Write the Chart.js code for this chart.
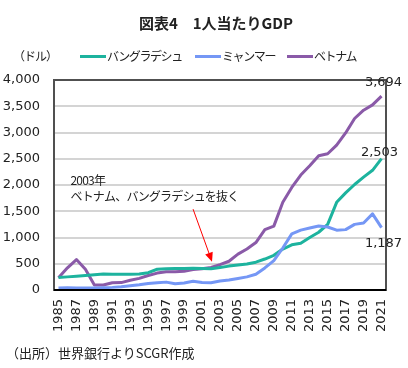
<!DOCTYPE html>
<html>
<head>
<meta charset="utf-8">
<script src="https://cdn.jsdelivr.net/npm/chart.js@4/dist/chart.umd.min.js"></script>
<style>
  body { margin: 0; background: #fff; }
  #wrap { position: relative; width: 408px; height: 368px; font-family: "Noto Sans CJK JP", "DejaVu Sans", sans-serif; color: #222; }
  #chart { position: absolute; left: 0; top: 0; }
  .title { position: absolute; left: 0; width: 432px; top: 12px; text-align: center; font-weight: bold; font-size: 15px; }
  .unit { position: absolute; left: 13px; top: 47px; font-size: 12px; letter-spacing: -1px; }
  .leg { position: absolute; top: 47px; font-size: 12px; white-space: nowrap; letter-spacing: -1.4px; }
  .leg i { display: inline-block; width: 26px; height: 3px; vertical-align: middle; margin-right: 1px; position: relative; top: -1px; }
  .src { position: absolute; left: 6px; top: 343px; font-size: 13px; }
</style>
</head>
<body>
<div id="wrap">
  <canvas id="chart" width="408" height="368"></canvas>
  <div class="title">図表4　1人当たりGDP</div>
  <div class="unit">（ドル）</div>
  <div class="leg" style="left:80px"><i style="background:#1DB39E"></i>バングラデシュ</div>
  <div class="leg" style="left:195px"><i style="background:#7597F5"></i>ミャンマー</div>
  <div class="leg" style="left:287px"><i style="background:#8A5AA8"></i>ベトナム</div>
  <div class="src">（出所）世界銀行よりSCGR作成</div>
</div>
<script>
// years 1985 - 2021
const years = ['1985', '1986', '1987', '1988', '1989', '1990', '1991', '1992', '1993', '1994', '1995', '1996', '1997',
  '1998', '1999', '2000', '2001', '2002', '2003', '2004', '2005', '2006', '2007', '2008', '2009', '2010', '2011',
  '2012', '2013', '2014', '2015', '2016', '2017', '2018', '2019', '2020', '2021'];

const bangladesh = [240, 250, 262, 275, 290, 305, 300, 298, 300, 305, 330, 395, 405, 410, 410, 415, 410, 405, 430, 455,
  475, 495, 530, 590, 660, 780, 860, 890, 1000, 1100, 1250, 1670, 1850, 2010, 2150, 2280, 2503];
const myanmar = [40, 45, 40, 38, 40, 45, 50, 60, 80, 100, 125, 140, 150, 120, 135, 165, 145, 140, 170, 190,
  220, 250, 300, 420, 560, 800, 1070, 1140, 1180, 1220, 1200, 1140, 1150, 1250, 1275, 1450, 1187];
const vietnam = [231, 422, 580, 395, 94, 95, 138, 141, 185, 222, 276, 322, 347, 349, 359, 390, 405, 431, 483, 548,
  684, 781, 904, 1149, 1217, 1673, 1954, 2190, 2367, 2558, 2595, 2760, 2992, 3267, 3425, 3526, 3694];

const yTicks = [0, 500, 1000, 1500, 2000, 2500, 3000, 3500, 4000];
const noteLines = ['2003年', 'ベトナム、バングラデシュを抜く'];

Chart.defaults.font.family = '"DejaVu Sans", "Noto Sans CJK JP", sans-serif';
Chart.defaults.color = '#222';

const extras = {
  id: 'extras',
  afterDatasetsDraw(chart) {
    const { ctx, chartArea: a, scales: { x, y } } = chart;
    ctx.save();
    // frame
    ctx.strokeStyle = '#505050';
    ctx.lineWidth = 2;
    ctx.strokeRect(a.left, a.top, a.right - a.left, a.bottom - a.top);
    ctx.strokeStyle = '#000';
    ctx.beginPath();
    ctx.moveTo(a.left, a.bottom);
    ctx.lineTo(a.right, a.bottom);
    ctx.stroke();

    // rotated year labels, every other year
    ctx.fillStyle = '#222';
    ctx.font = '13px "DejaVu Sans"';
    ctx.textAlign = 'right';
    ctx.textBaseline = 'middle';
    years.forEach((yr, i) => {
      if (i % 2) return;
      ctx.save();
      ctx.translate(x.getPixelForValue(i), a.bottom + 9);
      ctx.rotate(-Math.PI / 2);
      ctx.fillText(yr, 0, 0);
      ctx.restore();
    });

    // end labels
    const last = years.length - 1;
    const lx = x.getPixelForValue(last);
    ctx.textAlign = 'center';
    ctx.fillText(vietnam[last].toLocaleString('en-US'), lx + 2, y.getPixelForValue(vietnam[last]) - 13);
    ctx.fillText(bangladesh[last].toLocaleString('en-US'), lx - 2, y.getPixelForValue(bangladesh[last]) - 6);
    ctx.fillText(myanmar[last].toLocaleString('en-US'), lx + 2, y.getPixelForValue(myanmar[last]) + 16);

    // annotation
    ctx.font = '12px "Noto Sans CJK JP"';
    ctx.letterSpacing = '-0.8px';
    ctx.textAlign = 'left';
    ctx.fillText(noteLines[0], x.getPixelForValue(1) + 3, y.getPixelForValue(2080));
    ctx.fillText(noteLines[1], x.getPixelForValue(1) + 3, y.getPixelForValue(1780));
    ctx.letterSpacing = '0px';

    const sx = x.getPixelForValue(15), sy = y.getPixelForValue(1540);
    const tx = x.getPixelForValue(17) + 1, ty = y.getPixelForValue(540);
    const ang = Math.atan2(ty - sy, tx - sx);
    ctx.strokeStyle = '#FF0000';
    ctx.fillStyle = '#FF0000';
    ctx.lineWidth = 1;
    ctx.beginPath();
    ctx.moveTo(sx, sy);
    ctx.lineTo(tx - 6 * Math.cos(ang), ty - 6 * Math.sin(ang));
    ctx.stroke();
    ctx.beginPath();
    ctx.moveTo(tx, ty);
    ctx.lineTo(tx - 9 * Math.cos(ang) + 4 * Math.sin(ang), ty - 9 * Math.sin(ang) - 4 * Math.cos(ang));
    ctx.lineTo(tx - 9 * Math.cos(ang) - 4 * Math.sin(ang), ty - 9 * Math.sin(ang) + 4 * Math.cos(ang));
    ctx.closePath();
    ctx.fill();
    ctx.restore();
  }
};

const line = (label, data, color) => ({
  label, data,
  borderColor: color,
  backgroundColor: color,
  borderWidth: 3,
  pointRadius: 0,
  tension: 0,
  borderJoinStyle: 'round'
});

new Chart(document.getElementById('chart'), {
  type: 'line',
  data: {
    labels: years,
    datasets: [
      line('ミャンマー', myanmar, '#7597F5'),
      line('バングラデシュ', bangladesh, '#1DB39E'),
      line('ベトナム', vietnam, '#8A5AA8')
    ]
  },
  options: {
    responsive: false,
    animation: false,
    layout: { padding: { left: 0, right: 22, top: 80, bottom: 28 } },
    plugins: { legend: { display: false }, tooltip: { enabled: false } },
    scales: {
      x: {
        offset: true,
        grid: { display: false },
        border: { display: false },
        afterFit(s) { s.height = 50; },
        ticks: { display: false }
      },
      y: {
        min: 0,
        max: 4000,
        afterFit(s) { s.width = 54; },
        afterBuildTicks(s) { s.ticks = yTicks.map(v => ({ value: v })); },
        grid: { color: '#D4D4D4', lineWidth: 2, drawTicks: false },
        border: { display: false },
        ticks: {
          padding: 14,
          color: '#222',
          font: { size: 13 },
          callback: v => v.toLocaleString('en-US')
        }
      }
    }
  },
  plugins: [extras]
});
</script>
</body>
</html>
